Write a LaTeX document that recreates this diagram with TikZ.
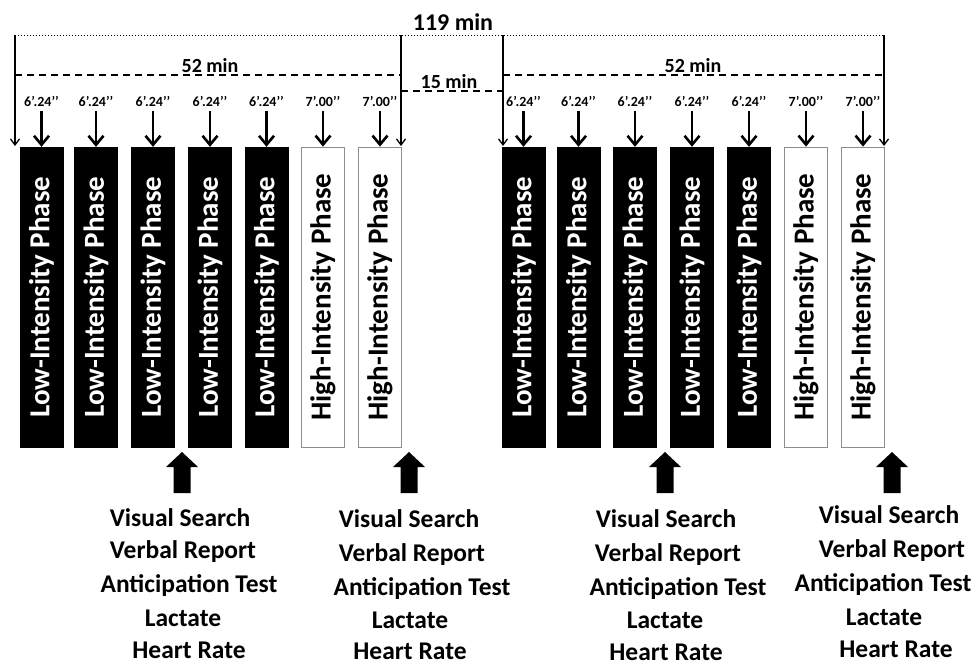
\documentclass[tikz,border=0pt]{standalone}
\usepackage{fontspec}
\setmainfont{Carlito}
\usetikzlibrary{arrows.meta}
\tikzset{
  x=1pt, y=-1pt,
  phasebox/.style={rotate=90, minimum width=300pt, minimum height=43pt, inner sep=0pt,
    font=\fontsize{29}{31}\selectfont\bfseries},
  lowbox/.style={phasebox, draw=black, fill=black, text=white},
  highbox/.style={phasebox, draw=black!45, line width=0.8pt, fill=white, text=black},
  durlab/.style={font=\fontsize{14}{16}\selectfont\bfseries, anchor=base, inner sep=0pt},
  minlab/.style={font=\fontsize{20}{22}\selectfont\bfseries, anchor=base, inner sep=0pt},
  toplab/.style={font=\fontsize{24}{26}\selectfont\bfseries, anchor=base, inner sep=0pt},
  measlab/.style={font=\fontsize{25.5}{27}\selectfont\bfseries, anchor=base, inner sep=0pt},
  smallarr/.style={line width=2.6pt, shorten <=5pt, -{Straight Barb[length=9pt,width=15pt]}},
  longarr/.style={line width=1.3pt, -{Straight Barb[length=6pt,width=9pt]}},
  blockarr/.style={fill=black},
}
\begin{document}
\begin{tikzpicture}
\useasboundingbox (0,0) rectangle (975,665);
% boxes
\foreach \n/\x in {1/41.5,2/96,3/153,4/210,5/266.5}{
  \node[lowbox] (L\n) at (\x,297) {Low-Intensity Phase};
  \node[durlab] (dL\n) at (\x,106) {6’.24’’};
  \draw[smallarr] (dL\n.south) -- (L\n.east);
}
\foreach \n/\x in {6/323,7/380}{
  \node[highbox] (L\n) at (\x,297) {High-Intensity Phase};
  \node[durlab] (dL\n) at (\x,106) {7’.00’’};
  \draw[smallarr] (dL\n.south) -- (L\n.east);
}
\foreach \n/\x in {1/523.5,2/578.5,3/635,4/692,5/749}{
  \node[lowbox] (R\n) at (\x,297) {Low-Intensity Phase};
  \node[durlab] (dR\n) at (\x,106) {6’.24’’};
  \draw[smallarr] (dR\n.south) -- (R\n.east);
}
\foreach \n/\x in {6/806,7/863}{
  \node[highbox] (R\n) at (\x,297) {High-Intensity Phase};
  \node[durlab] (dR\n) at (\x,106) {7’.00’’};
  \draw[smallarr] (dR\n.south) -- (R\n.east);
}
% timeline
\coordinate (t1) at (15,35);
\coordinate (t2) at (401,35);
\coordinate (t3) at (503,35);
\coordinate (t4) at (884,35);
\coordinate (e1) at (15,146);
\coordinate (e2) at (401,146);
\coordinate (e3) at (503,146);
\coordinate (e4) at (884,146);
\draw[dotted, line width=1pt] (t1) -- (t4);
\foreach \i in {1,2,3,4}{ \draw[longarr] (t\i) -- (e\i); }
\node[toplab] (total) at (453,30) {119 min};
\coordinate (d1a) at (15,75);
\coordinate (d1b) at (401,75);
\coordinate (d2a) at (503,75);
\coordinate (d2b) at (884,75);
\coordinate (d3a) at (401,91);
\coordinate (d3b) at (503,91);
\draw[dashed, dash pattern=on 7pt off 5pt, line width=1.3pt] (d1a) -- (d1b);
\draw[dashed, dash pattern=on 7pt off 5pt, line width=1.3pt] (d2a) -- (d2b);
\draw[dashed, dash pattern=on 7pt off 5pt, line width=1.3pt] (d3a) -- (d3b);
\node[minlab] (m1) at (210,72) {52 min};
\node[minlab] (m2) at (693,72) {52 min};
\node[minlab] (m3) at (449,88) {15 min};
% block arrows
\foreach \x in {182,409,665,892}{
  \fill[blockarr] (\x,452) -- (\x+16,467) -- (\x+8.5,467) -- (\x+8.5,493)
     -- (\x-8.5,493) -- (\x-8.5,467) -- (\x-16,467) -- cycle;
}
% measurement labels
\node[measlab] (a1) at (180,526) {Visual Search};
\node[measlab] (a2) at (183,558) {Verbal Report};
\node[measlab] (a3) at (189,592) {Anticipation Test};
\node[measlab] (a4) at (183,626) {Lactate};
\node[measlab] (a5) at (189,658) {Heart Rate};
\node[measlab] (b1) at (409,527) {Visual Search};
\node[measlab] (b2) at (412,561) {Verbal Report};
\node[measlab] (b3) at (422,595) {Anticipation Test};
\node[measlab] (b4) at (410,628) {Lactate};
\node[measlab] (b5) at (410,659) {Heart Rate};
\node[measlab] (c1) at (666,527) {Visual Search};
\node[measlab] (c2) at (668,561) {Verbal Report};
\node[measlab] (c3) at (678,595) {Anticipation Test};
\node[measlab] (c4) at (665,628) {Lactate};
\node[measlab] (c5) at (666,660) {Heart Rate};
\node[measlab] (g1) at (889,523) {Visual Search};
\node[measlab] (g2) at (892,557) {Verbal Report};
\node[measlab] (g3) at (883,591) {Anticipation Test};
\node[measlab] (g4) at (884,625) {Lactate};
\node[measlab] (g5) at (896,657) {Heart Rate};
\end{tikzpicture}
\end{document}
